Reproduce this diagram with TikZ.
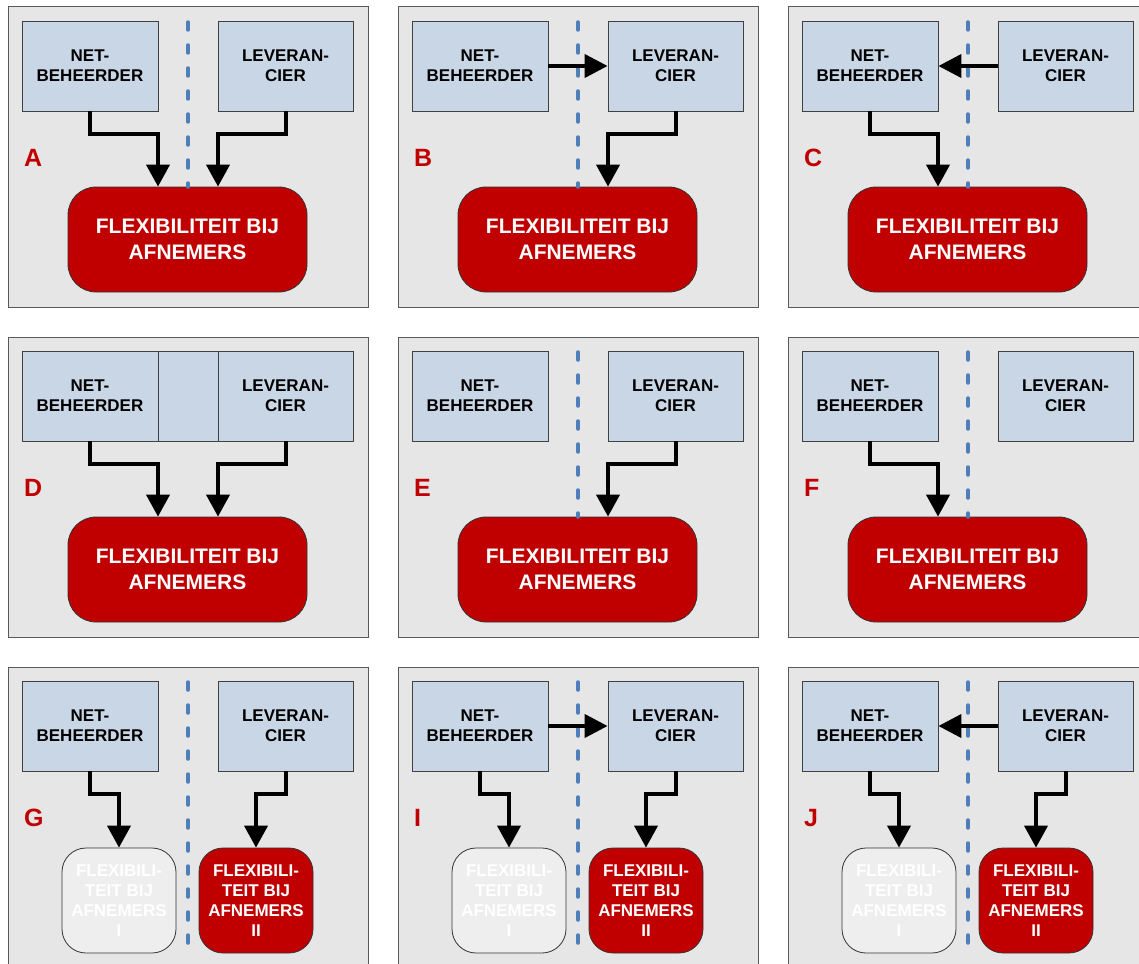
\documentclass[tikz,border=0pt]{standalone}
\usepackage{fontspec}
\setmainfont{Liberation Sans}
\usetikzlibrary{arrows.meta}
\definecolor{bgc}{HTML}{E6E6E6}
\definecolor{boxc}{HTML}{C9D6E5}
\definecolor{redc}{HTML}{C00000}
\definecolor{dashc}{HTML}{4F7FBA}
\definecolor{palec}{HTML}{EEEEEE}
\tikzset{
 panelbg/.style={draw=black!65, fill=bgc, line width=1pt, minimum width=360pt, minimum height=300pt, inner sep=0pt},
 actor/.style={draw=black!75, fill=boxc, line width=0.8pt, minimum width=136pt, minimum height=90pt, inner sep=0pt, align=center, font=\bfseries\fontsize{17}{20}\selectfont},
 midbox/.style={draw=black!75, fill=boxc, line width=0.8pt, minimum width=60pt, minimum height=90pt, inner sep=0pt},
 bigflex/.style={draw=black!80, fill=redc, text=white, line width=0.8pt, rounded corners=28pt, minimum width=239pt, minimum height=105pt, inner sep=0pt, align=center, font=\bfseries\fontsize{21}{26}\selectfont},
 smallflex/.style={draw=black!80, rounded corners=24pt, minimum width=114pt, minimum height=105pt, inner sep=0pt, align=center, text=white, font=\bfseries\fontsize{17}{20}\selectfont, line width=0.8pt},
 redflex/.style={smallflex, fill=redc},
 paleflex/.style={smallflex, fill=palec},
 letterlbl/.style={text=redc, anchor=base west, inner sep=0pt, font=\bfseries\fontsize{25}{25}\selectfont},
 conn/.style={draw=black, line width=4pt, -{Triangle[width=23pt,length=22pt]}},
 hconn/.style={draw=black, line width=4pt, -{Triangle[width=23pt,length=23pt]}},
 divline/.style={draw=dashc, line width=3.5pt, line cap=round, dash pattern=on 8pt off 15pt},
}
% common parts of a panel: #1 id, #2 letter
\newcommand\panelcommon[2]{%
  \node[panelbg] (bg#1) at (188,157) {};
  \node[actor] (n#1) at (90,66) {NET-\\BEHEERDER};
  \node[actor, minimum width=135pt] (l#1) at (285.5,66) {LEVERAN-\\CIER};
  \node[letterlbl] (t#1) at (24,166) {#2};
}
\newcommand\bigbox[1]{\node[bigflex] (f#1) at (187.5,239.5) {FLEXIBILITEIT BIJ\\AFNEMERS};}
\newcommand\smallboxes[1]{%
  \node[paleflex] (p#1) at (119,240.5) {FLEXIBILI-\\TEIT BIJ\\AFNEMERS\\I};
  \node[redflex] (r#1) at (256,240.5) {FLEXIBILI-\\TEIT BIJ\\AFNEMERS\\II};
}
\newcommand\divider[2]{%
  \coordinate (dt#1) at (188,22);
  \coordinate (db#1) at (188,#2);
  \draw[divline] (dt#1) -- (db#1);
}
\newcommand\netdown[1]{\draw[conn] (n#1.south) -- ++(0,23) -| ([xshift=-29.5pt]f#1.north);}
\newcommand\levdown[1]{\draw[conn] (l#1.south) -- ++(0,23) -| ([xshift=30.5pt]f#1.north);}
\newcommand\netdownsmall[1]{\draw[conn] (n#1.south) -- ++(0,23) -| (p#1.north);}
\newcommand\levdownsmall[1]{\draw[conn] (l#1.south) -- ++(0,23) -| (r#1.north);}
\begin{document}
\begin{tikzpicture}[x=1pt,y=-1pt]
\useasboundingbox (0,0) rectangle (1139,963);
\clip (0,0) rectangle (1139,963);
\fill[white] (0,0) rectangle (1139,963);
% ---------- Row 1 ----------
\begin{scope}[shift={(0,0)}]
  \panelcommon{A}{A}
  \bigbox{A}
  \divider{A}{187}
  \netdown{A}
  \levdown{A}
\end{scope}
\begin{scope}[shift={(390,0)}]
  \panelcommon{B}{B}
  \bigbox{B}
  \divider{B}{187}
  \draw[hconn] (nB.east) -- (lB.west);
  \levdown{B}
\end{scope}
\begin{scope}[shift={(780,0)}]
  \panelcommon{C}{C}
  \bigbox{C}
  \divider{C}{187}
  \draw[hconn] (lC.west) -- (nC.east);
  \netdown{C}
\end{scope}
% ---------- Row 2 ----------
\begin{scope}[shift={(0,330)}]
  \panelcommon{D}{D}
  \node[midbox] (mD) at (188,66) {};
  \bigbox{D}
  \netdown{D}
  \levdown{D}
\end{scope}
\begin{scope}[shift={(390,330)}]
  \panelcommon{E}{E}
  \bigbox{E}
  \divider{E}{187}
  \levdown{E}
\end{scope}
\begin{scope}[shift={(780,330)}]
  \panelcommon{F}{F}
  \bigbox{F}
  \divider{F}{187}
  \netdown{F}
\end{scope}
% ---------- Row 3 ----------
\begin{scope}[shift={(0,660)}]
  \panelcommon{G}{G}
  \smallboxes{G}
  \divider{G}{285}
  \netdownsmall{G}
  \levdownsmall{G}
\end{scope}
\begin{scope}[shift={(390,660)}]
  \panelcommon{I}{I}
  \smallboxes{I}
  \divider{I}{285}
  \draw[hconn] (nI.east) -- (lI.west);
  \netdownsmall{I}
  \levdownsmall{I}
\end{scope}
\begin{scope}[shift={(780,660)}]
  \panelcommon{J}{J}
  \smallboxes{J}
  \divider{J}{285}
  \draw[hconn] (lJ.west) -- (nJ.east);
  \netdownsmall{J}
  \levdownsmall{J}
\end{scope}
\end{tikzpicture}
\end{document}
